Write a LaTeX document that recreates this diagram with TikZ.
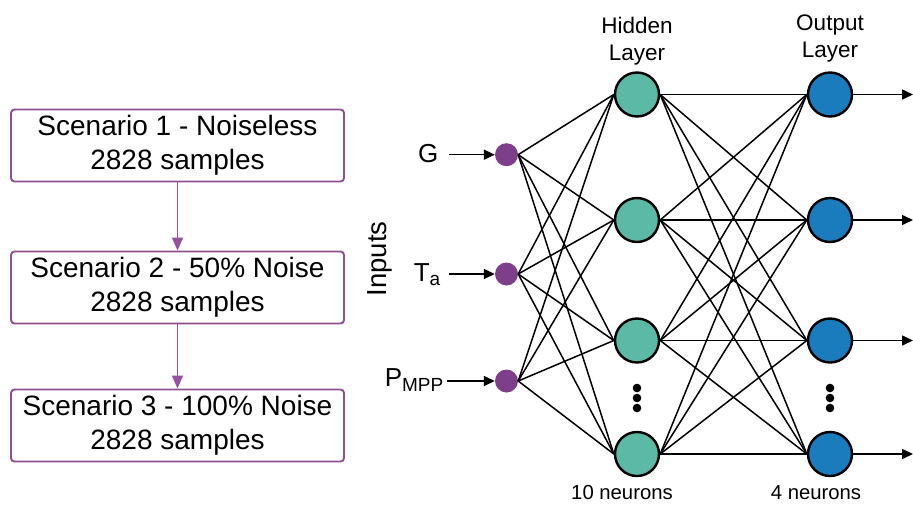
\documentclass[tikz,border=0pt]{standalone}
\usepackage{fontspec}
\setmainfont{Liberation Sans}
\usetikzlibrary{arrows.meta}
\definecolor{boxpurple}{HTML}{8E4F91}
\definecolor{arrpurple}{HTML}{9654A0}
\definecolor{inpurple}{HTML}{7E3F8A}
\definecolor{hidteal}{HTML}{5BB9A5}
\definecolor{outblue}{HTML}{1A7BBD}
\tikzset{
  scen/.style={draw=boxpurple, line width=1.9pt, rounded corners=3.5pt, minimum width=333pt, minimum height=72pt, inner sep=0pt, align=center, font=\fontsize{28}{34}\selectfont},
  flowarrow/.style={draw=arrpurple, line width=1.8pt, -{Triangle[length=13pt,width=11pt]}},
  innode/.style={circle, fill=inpurple, minimum size=23pt, inner sep=0pt},
  hidnode/.style={circle, draw=black, line width=2.4pt, fill=hidteal, minimum size=44pt, inner sep=0pt},
  outnode/.style={circle, draw=black, line width=2.4pt, fill=outblue, minimum size=44pt, inner sep=0pt},
  conn/.style={draw=black, line width=1.5pt},
  sigarrow/.style={draw=black, line width=1.5pt, -{Triangle[length=11pt,width=10pt]}},
  lbl/.style={font=\fontsize{22.5}{27}\selectfont, align=center, inner sep=0pt},
  inlbl/.style={font=\fontsize{26}{30}\selectfont, inner sep=0pt, anchor=base east},
  cnt/.style={font=\fontsize{20.3}{24}\selectfont, inner sep=0pt, anchor=base},
}
\begin{document}
\begin{tikzpicture}[x=1pt,y=-1pt]
\useasboundingbox (0,0) rectangle (913,504);

% Scenario flow
\node[scen] (s1) at (177.5,145.5) {Scenario 1 - Noiseless\\2828 samples};
\node[scen] (s2) at (177.5,287.5) {Scenario 2 - 50\% Noise\\2828 samples};
\node[scen] (s3) at (177.5,425.5) {Scenario 3 - 100\% Noise\\2828 samples};
\draw[flowarrow] (s1.south) -- (s2.north);
\draw[flowarrow] (s2.south) -- (s3.north);

% Input nodes
\node[innode] (i1) at (506.5,154.7) {};
\node[innode] (i2) at (506.5,274) {};
\node[innode] (i3) at (506.5,381) {};

% Hidden nodes
\node[hidnode] (h1) at (637,94.5) {};
\node[hidnode] (h2) at (637,220) {};
\node[hidnode] (h3) at (637,340.5) {};
\node[hidnode] (h4) at (637,454) {};

% Output nodes
\node[outnode] (o1) at (830,94.5) {};
\node[outnode] (o2) at (830,220) {};
\node[outnode] (o3) at (830,340.5) {};
\node[outnode] (o4) at (830,454) {};

% Connections
\foreach \i in {1,2,3}{
  \foreach \h in {1,2,3,4}{
    \draw[conn] (i\i.east) -- (h\h.west);
  }
}
\foreach \h in {1,2,3,4}{
  \foreach \o in {1,2,3,4}{
    \draw[conn] (h\h.east) -- (o\o.west);
  }
}

% Ellipsis dots
\foreach \y in {388,398,408}{
  \fill (637,\y) circle (4.3pt);
  \fill (830,\y) circle (4.3pt);
}

% Input labels and arrows
\node[inlbl] (gl) at (438.5,162.3) {G};
\node[inlbl] (tl) at (440.5,281.7) {T\raisebox{-4pt}{\fontsize{19}{19}\selectfont a}};
\node[inlbl] (pl) at (443.5,386.7) {P\raisebox{-5pt}{\fontsize{19}{19}\selectfont MPP}};
\coordinate (ga) at (449,154.7);
\coordinate (ta) at (449,274);
\coordinate (pa) at (447,381);
\draw[sigarrow] (ga) -- (i1.west);
\draw[sigarrow] (ta) -- (i2.west);
\draw[sigarrow] (pa) -- (i3.west);

\node[rotate=90, font=\fontsize{27.5}{30}\selectfont, inner sep=0pt] (inp) at (380,259) {Inputs};

% Output arrows
\coordinate (e1) at (913,94.5);
\coordinate (e2) at (913,220);
\coordinate (e3) at (913,340.5);
\coordinate (e4) at (913,454);
\foreach \o in {1,2,3,4}{
  \draw[sigarrow] (o\o.east) -- (e\o);
}

% Layer labels
\node[lbl] (hl) at (637,41.6) {Hidden\\Layer};
\node[lbl] (ol) at (830,38.6) {Output\\Layer};
\node[cnt] (hc) at (622,499) {10 neurons};
\node[cnt] (oc) at (816,499) {4 neurons};
\end{tikzpicture}
\end{document}
